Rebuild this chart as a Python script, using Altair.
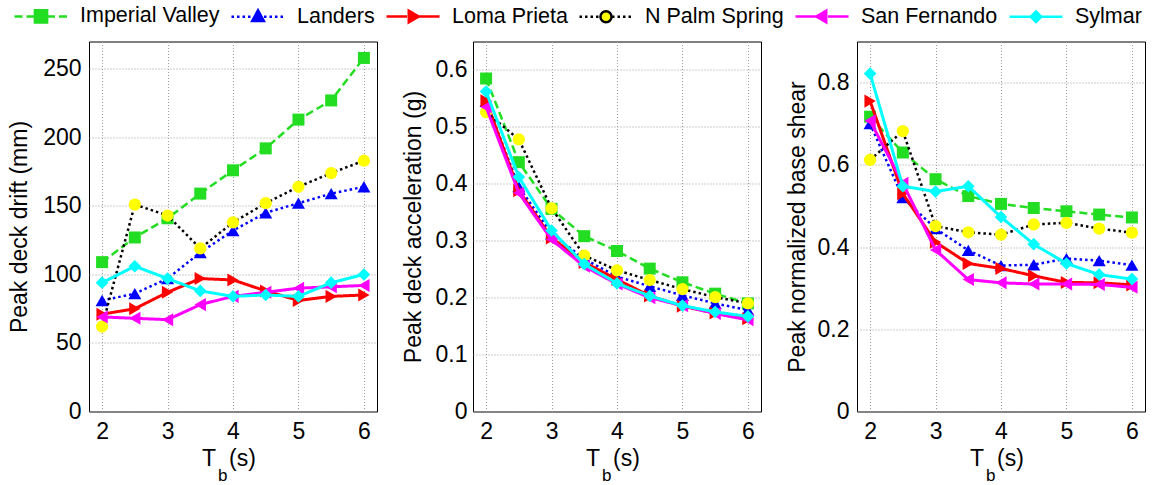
import altair as alt
import pandas as pd

# ---------------- data ----------------
T = [2, 2.5, 3, 3.5, 4, 4.5, 5, 5.5, 6]
names = ["Imperial Valley", "Landers", "Loma Prieta", "N Palm Spring", "San Fernando", "Sylmar"]

drift = {
    "Imperial Valley": [109, 127, 141, 159, 176, 192, 213, 227, 258],
    "Landers":         [81, 86, 97, 116, 132, 145, 152, 159, 164],
    "Loma Prieta":     [71, 75, 87, 97, 96, 88, 81, 84, 85],
    "N Palm Spring":   [62, 151, 143, 119, 138, 152, 164, 174, 183],
    "San Fernando":    [69, 68, 67, 78, 84, 87, 90, 91, 92],
    "Sylmar":          [94, 106, 97, 88, 84, 85, 84, 94, 100],
}
accel = {
    "Imperial Valley": [0.585, 0.438, 0.356, 0.308, 0.282, 0.251, 0.227, 0.207, 0.190],
    "Landers":         [0.545, 0.395, 0.312, 0.268, 0.237, 0.220, 0.204, 0.190, 0.178],
    "Loma Prieta":     [0.546, 0.388, 0.305, 0.262, 0.232, 0.203, 0.185, 0.173, 0.163],
    "N Palm Spring":   [0.526, 0.478, 0.357, 0.274, 0.248, 0.231, 0.215, 0.201, 0.190],
    "San Fernando":    [0.535, 0.384, 0.302, 0.255, 0.224, 0.200, 0.186, 0.172, 0.161],
    "Sylmar":          [0.562, 0.412, 0.318, 0.259, 0.225, 0.203, 0.186, 0.175, 0.167],
}
shear = {
    "Imperial Valley": [0.717, 0.630, 0.565, 0.524, 0.505, 0.495, 0.487, 0.479, 0.472],
    "Landers":         [0.700, 0.520, 0.445, 0.392, 0.355, 0.357, 0.372, 0.367, 0.356],
    "Loma Prieta":     [0.755, 0.530, 0.412, 0.360, 0.348, 0.330, 0.314, 0.313, 0.308],
    "N Palm Spring":   [0.612, 0.682, 0.451, 0.436, 0.430, 0.455, 0.459, 0.445, 0.435],
    "San Fernando":    [0.707, 0.555, 0.393, 0.321, 0.313, 0.310, 0.310, 0.309, 0.302],
    "Sylmar":          [0.822, 0.548, 0.535, 0.548, 0.473, 0.407, 0.360, 0.333, 0.322],
}

drift_ticks = [0, 50, 100, 150, 200, 250]
accel_ticks = [0, 0.1, 0.2, 0.3, 0.4, 0.5, 0.6]
shear_ticks = [0, 0.2, 0.4, 0.6, 0.8]
x_ticks = [2, 3, 4, 5, 6]

# ---------------- styles ----------------
FONT = "Liberation Sans"
line_colors = ["#22dd22", "#0000ff", "#ff0000", "#000000", "#ff00ff", "#00ffff"]
marker_colors = ["#22dd22", "#0000ff", "#ff0000", "#ffff00", "#ff00ff", "#00ffff"]
shapes = ["square", "triangle-up", "triangle-right", "circle", "triangle-left", "diamond"]
marker_sizes = [144, 170, 170, 150, 170, 160]
dashes = [[8, 4], [2.5, 3], [1, 0], [2.5, 3], [1, 0], [1, 0]]
widths = [2.5, 2.5, 3, 2.5, 3, 3]

# legend glyphs: line sample + marker drawn as one custom symbol path
HALF = 26.5  # half length of the legend line sample in px (path unit = HALF px)


def seg_path(a, b, dash):
    """Horizontal (dashed) segments from a to b (px); returns path in unit coords."""
    on, off = dash
    parts = []
    if off == 0:
        return f"M{a / HALF:.3f},0H{b / HALF:.3f}"
    x = a
    while x < b:
        e = min(x + on, b)
        parts.append(f"M{x / HALF:.3f},0H{e / HALF:.3f}")
        x = e + off
    return "".join(parts)


marker_paths = [
    "M-0.23,-0.23H0.23V0.23H-0.23Z",
    "M0,-0.24L0.22,0.16L-0.22,0.16Z",
    "M0.22,0L-0.16,-0.22L-0.16,0.22Z",
    "M0.21,0A0.21,0.21,0,1,1,-0.21,0A0.21,0.21,0,1,1,0.21,0Z",
    "M-0.22,0L0.16,-0.22L0.16,0.22Z",
    "M0,-0.2L0.2,0L0,0.2L-0.2,0Z",
]
legend_paths = [
    seg_path(-HALF, -6, dashes[i]) + seg_path(6, HALF, dashes[i]) + marker_paths[i]
    for i in range(len(names))
]

PW, PH = 288, 370


def text_piece(txt, x, y, size):
    return alt.Chart(alt.Data(values=[{"s": txt}])).mark_text(
        font=FONT, fontSize=size, align="left", baseline="alphabetic", color="black"
    ).encode(x=alt.value(x), y=alt.value(y), text=alt.value(txt))


def panel(values, ytitle, ydomain, yticks, label_pad, title_pad, extra=None):
    rows = []
    for n in names:
        for t, v in zip(T, values[n]):
            rows.append({"series": n, "T": t, "v": v})
    df = pd.DataFrame(rows)
    X = alt.X(
        "T:Q",
        scale=alt.Scale(domain=[1.8, 6.2], nice=False, zero=False),
        axis=alt.Axis(values=x_ticks, title=None, labelPadding=9, format="d"),
    )
    Y = alt.Y(
        "v:Q",
        scale=alt.Scale(domain=ydomain, nice=False),
        axis=alt.Axis(values=yticks, title=ytitle, format=".3~r",
                      labelPadding=label_pad, titlePadding=title_pad),
    )
    base = alt.Chart(df)
    layers = []
    for i, n in enumerate(names):
        sub = base.transform_filter(alt.datum.series == n)
        layers.append(
            sub.mark_line(stroke=line_colors[i], strokeDash=dashes[i],
                          strokeWidth=widths[i]).encode(x=X, y=Y)
        )
        layers.append(
            sub.mark_point(shape=shapes[i], filled=True, color=marker_colors[i],
                           size=marker_sizes[i], opacity=1).encode(x=X, y=Y)
        )
    # x-axis title "T_b (s)" with subscript
    layers.append(text_piece("T", 113, 424, 23))
    layers.append(text_piece("b", 129, 439, 17))
    layers.append(text_piece("(s)", 140, 424, 23))
    if extra is not None:
        layers.append(extra)
    return alt.layer(*layers).properties(width=PW, height=PH)


leg = alt.Legend(
    title=None, orient="none", legendX=-76, legendY=-53.5, direction="horizontal",
    columns=6, symbolSize=(2 * HALF) ** 2, symbolStrokeWidth=2.5,
    labelFontSize=21.5, labelFont=FONT, labelOffset=11, columnPadding=6,
    labelColor="black",
)
leg_df = pd.DataFrame({"series": names})
legend_layer = (
    alt.Chart(leg_df)
    .transform_filter("false")
    .mark_point(strokeWidth=2.5, opacity=1)
    .encode(
        fill=alt.Fill("series:N", scale=alt.Scale(domain=names, range=marker_colors), legend=leg),
        stroke=alt.Stroke("series:N", scale=alt.Scale(domain=names, range=line_colors), legend=leg),
        shape=alt.Shape("series:N", scale=alt.Scale(domain=names, range=legend_paths), legend=leg),
    )
)

p1 = panel(drift, "Peak deck drift (mm)", [0, 270], drift_ticks, 8, 11, extra=legend_layer)
p2 = panel(accel, "Peak deck acceleration (g)", [0, 0.65], accel_ticks, 6, 10)
p3 = panel(shear, "Peak normalized base shear", [0, 0.9], shear_ticks, 8, 8)

chart = (
    alt.hconcat(p1, p2, p3, spacing=96, bounds="flush")
    .resolve_scale(fill="independent", stroke="independent", shape="independent")
    .resolve_legend(fill="independent", stroke="independent", shape="independent")
    .properties(padding={"left": 8, "top": -12.5, "right": 5, "bottom": 0}, background="white")
    .configure(font=FONT)
    .configure_view(stroke="black", strokeWidth=1)
    .configure_axis(
        labelFont=FONT, titleFont=FONT, labelFontSize=23, titleFontSize=23,
        titleFontWeight="normal", labelColor="black", titleColor="black",
        ticks=False, domain=False, grid=True, gridColor="#9a9a9a",
        gridDash=[1, 2], gridWidth=1, gridOpacity=1,
    )
)

chart.save("out.html", embed_options={"renderer": "svg", "actions": False})
